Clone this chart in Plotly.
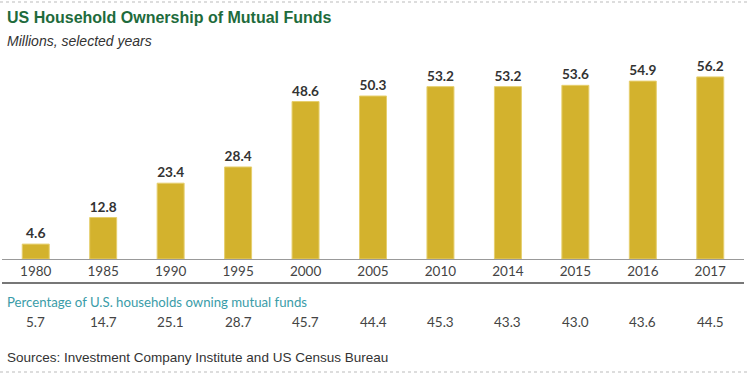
import plotly.graph_objects as go

years = ["1980", "1985", "1990", "1995", "2000", "2005", "2010", "2014", "2015", "2016", "2017"]
households_millions = [4.6, 12.8, 23.4, 28.4, 48.6, 50.3, 53.2, 53.2, 53.6, 54.9, 56.2]
pct_households = ["5.7", "14.7", "25.1", "28.7", "45.7", "44.4", "45.3", "43.3", "43.0", "43.6", "44.5"]

W, H = 750, 381
L, R, T, B = 2, 6, 60, 122
ph = H - T - B

def py(px):
    return (H - B - px) / ph

def pxx(px):
    return (px - L) / (W - L - R)

fig = go.Figure()
fig.add_trace(go.Bar(
    x=years, y=households_millions,
    marker=dict(color="#D3B22D", line=dict(color="#E6CF6E", width=1)),
    text=[f"{v:.1f}" for v in households_millions],
    textposition="outside",
    textfont=dict(family="Lato", size=14, color="#333333"),
    texttemplate="<b>%{text}</b>",
    cliponaxis=False,
    hoverinfo="skip",
))

annotations = [
    dict(text="<b>US Household Ownership of Mutual Funds</b>", x=pxx(5), y=py(18), xref="paper", yref="paper",
         xanchor="left", yanchor="middle", showarrow=False,
         font=dict(family="Liberation Sans", size=16, color="#1E6B3C")),
    dict(text="<i>Millions, selected years</i>", x=pxx(5), y=py(41), xref="paper", yref="paper",
         xanchor="left", yanchor="middle", showarrow=False,
         font=dict(family="Liberation Sans", size=14, color="#333333")),
    dict(text="Percentage of U.S. households owning mutual funds", x=pxx(5), y=py(302), xref="paper", yref="paper",
         xanchor="left", yanchor="middle", showarrow=False,
         font=dict(family="Lato", size=13.2, color="#3A9CA8")),
    dict(text="Sources: Investment Company Institute and US Census Bureau", x=pxx(5), y=py(357), xref="paper", yref="paper",
         xanchor="left", yanchor="middle", showarrow=False,
         font=dict(family="Liberation Sans", size=13.5, color="#333333")),
]
for i, p in enumerate(pct_households):
    annotations.append(dict(text=p, x=i, y=py(322), xref="x", yref="paper",
                            xanchor="center", yanchor="middle", showarrow=False,
                            font=dict(family="Lato", size=13.5, color="#444444")))

shapes = [
    dict(type="line", xref="paper", yref="paper", x0=pxx(0), x1=pxx(750), y0=py(2), y1=py(2),
         line=dict(color="#BBBBBB", width=1, dash="dot")),
    dict(type="line", xref="paper", yref="paper", x0=pxx(0), x1=pxx(750), y0=py(372), y1=py(372),
         line=dict(color="#BBBBBB", width=1, dash="dot")),
    dict(type="line", xref="paper", yref="paper", x0=0, x1=1, y0=py(283), y1=py(283),
         line=dict(color="#777777", width=2)),
]

fig.update_layout(
    width=W, height=H,
    margin=dict(l=L, r=R, t=T, b=B),
    paper_bgcolor="white", plot_bgcolor="white",
    showlegend=False,
    bargap=0.6,
    annotations=annotations,
    shapes=shapes,
    xaxis=dict(type="category", range=[-0.5, len(years) - 0.5], autorange=False,
               showline=True, linecolor="#999999", linewidth=1,
               ticks="", showgrid=False,
               tickfont=dict(family="Lato", size=13.5, color="#444444")),
    yaxis=dict(range=[0, ph / 3.24], visible=False, showgrid=False, zeroline=False),
)

fig.write_html("out.html", config={"displayModeBar": False},
               post_script="document.body.style.margin='0px';")
